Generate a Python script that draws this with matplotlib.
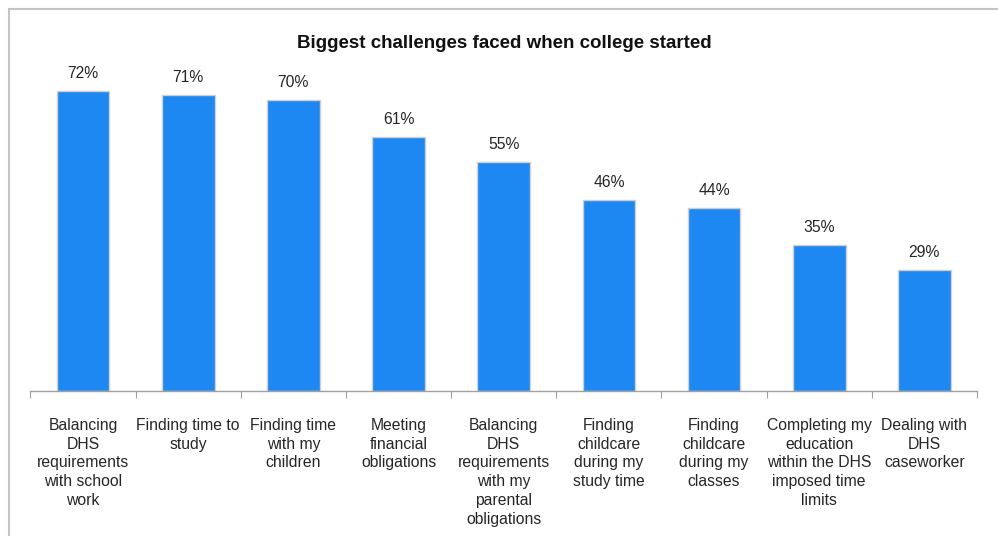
import matplotlib.pyplot as plt
from matplotlib.patches import Rectangle

plt.rcParams['font.family'] = ['Liberation Sans', 'DejaVu Sans']

categories = [
    'Balancing\nDHS\nrequirements\nwith school\nwork',
    'Finding time to\nstudy',
    'Finding time\nwith my\nchildren',
    'Meeting\nfinancial\nobligations',
    'Balancing\nDHS\nrequirements\nwith my\nparental\nobligations',
    'Finding\nchildcare\nduring my\nstudy time',
    'Finding\nchildcare\nduring my\nclasses',
    'Completing my\neducation\nwithin the DHS\nimposed time\nlimits',
    'Dealing with\nDHS\ncaseworker',
]
percent = [72, 71, 70, 61, 55, 46, 44, 35, 29]

W, H = 998, 536
fig = plt.figure(figsize=(W / 100, H / 100), dpi=100)

# light frame around the chart area, running off the right and bottom edges
fig.patches.append(Rectangle((8.5 / W, -0.1), 1, 1.1 - 8.5 / H, transform=fig.transFigure,
                             fill=False, edgecolor='#c4c4c4', linewidth=1.5))

ax = fig.add_axes([30.5 / W, 1 - 391 / H, (977 - 30.5) / W, (391 - 58) / H])
xs = range(len(percent))
ax.bar(xs, percent, width=0.5, color='#1e88f2', edgecolor='#cfcfcf', linewidth=1)
for x, v in zip(xs, percent):
    ax.text(x, v + 2.4, '%d%%' % v, ha='center', va='bottom', fontsize=11.3, color='#262626')

ax.set_xlim(-0.5, len(percent) - 0.5)
ax.set_ylim(0, 80)
ax.set_yticks([])
for s in ['top', 'right', 'left']:
    ax.spines[s].set_visible(False)
ax.spines['bottom'].set_color('#a0a0a0')
ax.spines['bottom'].set_linewidth(1)

ax.set_xticks([x - 0.5 for x in range(len(percent) + 1)])
ax.set_xticklabels([])
ax.tick_params(axis='x', length=5, color='#a0a0a0', direction='out')
for x, lab in zip(xs, categories):
    ax.text(x, -6.5, lab, ha='center', va='top', fontsize=11.3, color='#262626',
            linespacing=1.31)

fig.text(504 / W, 1 - 43 / H, 'Biggest challenges faced when college started',
         ha='center', va='center', fontsize=13.5, fontweight='bold', color='#111111')

fig.savefig('out.png', dpi=100)
